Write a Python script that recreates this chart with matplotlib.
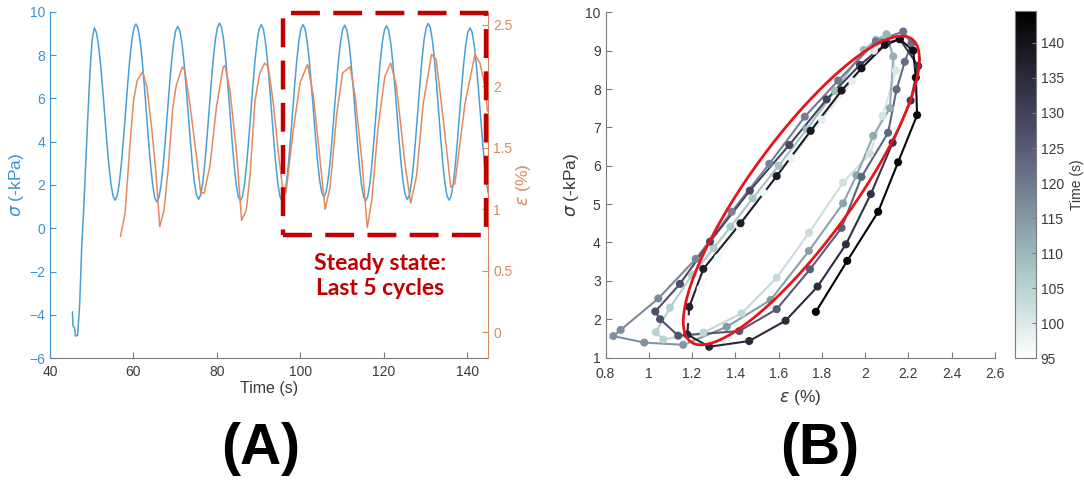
import numpy as np
import matplotlib.pyplot as plt
from matplotlib.collections import LineCollection
from matplotlib.patches import Rectangle
from matplotlib.ticker import FuncFormatter

plt.rcParams['font.family'] = ['Liberation Sans', 'DejaVu Sans']
plt.rcParams['mathtext.fontset'] = 'dejavusans'

# ---- Panel A: stress (left axis) ----
t_sigma_start = [45.4, 45.5, 45.9, 46.1]
sigma_start = [-3.86, -4.5, -4.6, -4.97]
# sampled every 0.5 s from t = 46.6 s
sigma_main = [
    -4.95, -3.6, -0.9, 1.0, 3.15, 5.3, 7.3, 8.7, 9.25,
    9.06, 8.49, 7.61, 6.50, 5.28, 4.05, 2.94, 2.06, 1.50, 1.30,
    1.50, 2.08, 2.98, 4.11, 5.37, 6.62, 7.76, 8.65, 9.23, 9.43,
    9.23, 8.65, 7.74, 6.59, 5.33, 4.06, 2.91, 2.00, 1.42, 1.22,
    1.42, 1.99, 2.89, 4.02, 5.27, 6.52, 7.65, 8.55, 9.12, 9.32,
    9.12, 8.56, 7.68, 6.56, 5.33, 4.10, 2.98, 2.10, 1.54, 1.34,
    1.54, 2.12, 3.02, 4.15, 5.41, 6.66, 7.80, 8.69, 9.27, 9.47,
    9.27, 8.69, 7.78, 6.63, 5.37, 4.10, 2.95, 2.04, 1.46, 1.26,
    1.46, 2.04, 2.94, 4.07, 5.33, 6.59, 7.72, 8.62, 9.20, 9.40,
    9.20, 8.62, 7.72, 6.59, 5.33, 4.07, 2.94, 2.04, 1.46, 1.26,
    1.46, 2.04, 2.94, 4.07, 5.33, 6.59, 7.72, 8.62, 9.20, 9.40,
    9.21, 8.64, 7.76, 6.65, 5.43, 4.20, 3.09, 2.21, 1.65, 1.45,
    1.64, 2.21, 3.08, 4.19, 5.41, 6.63, 7.74, 8.61, 9.18, 9.37,
    9.17, 8.60, 7.70, 6.57, 5.32, 4.06, 2.93, 2.04, 1.46, 1.26,
    1.46, 2.03, 2.93, 4.06, 5.31, 6.56, 7.68, 8.58, 9.15, 9.35,
    9.15, 8.59, 7.70, 6.58, 5.35, 4.11, 2.99, 2.11, 1.54, 1.34,
    1.54, 2.12, 3.01, 4.15, 5.40, 6.66, 7.79, 8.69, 9.26, 9.46,
    9.26, 8.68, 7.78, 6.64, 5.38, 4.12, 2.98, 2.08, 1.50, 1.30,
    1.50, 2.06, 2.94, 4.05, 5.28, 6.50, 7.61, 8.49, 9.06, 9.25,
    9.06, 8.49, 7.61, 6.50, 5.28, 4.05, 2.94, 2.06, 1.50,
]

# ---- Panel A: strain (right axis) ----
t_eps = [56.9, 58.0, 59.0, 60.0, 60.9, 62.2, 63.2, 64.4, 65.4, 66.3,
         67.3, 68.3, 69.4, 70.2, 71.7, 72.3, 73.5, 75.1, 76.1, 76.9,
         78.3, 79.9, 81.5, 81.9, 83.1, 84.7, 85.9, 87.0, 87.9, 89.1,
         90.2, 91.4, 92.3, 93.5, 94.7, 95.7, 96.5, 98.3, 99.9, 101.7,
         103.1, 104.7, 105.9, 107.1, 108.7, 110.1, 111.9, 113.1, 114.7, 116.0,
         117.1, 118.6, 120.2, 121.6, 123.0, 125.0, 126.4, 127.8, 129.4, 131.4,
         132.5, 134.2, 136.0, 137.0, 139.4, 141.8, 143.0, 144.2, 144.8]
eps = [0.78, 0.97, 1.45, 1.88, 2.05, 2.12, 2.00, 1.65, 1.29, 0.86,
       0.99, 1.32, 1.82, 2.00, 2.16, 2.13, 1.86, 1.43, 1.14, 1.13,
       1.35, 1.84, 2.16, 2.17, 1.97, 1.46, 0.91, 0.99, 1.27, 1.88,
       2.10, 2.19, 2.16, 1.86, 1.46, 1.18, 1.13, 1.65, 2.03, 2.18,
       1.92, 1.40, 1.00, 1.18, 1.78, 2.11, 2.16, 1.92, 1.40, 0.85,
       1.08, 1.67, 2.08, 2.19, 2.00, 1.38, 1.05, 1.27, 1.86, 2.26,
       2.22, 1.73, 1.18, 1.21, 1.86, 2.26, 2.19, 2.00, 1.80]

# steady state window
box_t = (95.7, 144.4)
box_sigma = (-0.3, 9.95)

# ---- Panel B: last 5 cycles, strain vs stress ----
eps_c1 = [1.16, 1.18, 1.24, 1.32, 1.42, 1.53, 1.66, 1.80, 1.94, 2.04,
          2.10, 2.142, 2.08, 2.022, 1.898, 1.74, 1.591, 1.429, 1.252, 1.067]
sig_c1 = [1.40, 2.00, 2.80, 3.60, 4.40, 5.30, 6.20, 7.20, 8.20, 9.00,
          9.40, 8.48, 7.30, 6.31, 5.56, 4.25, 3.08, 2.15, 1.65, 1.47]
eps_c2 = [1.033, 1.098, 1.20, 1.30, 1.378, 1.48, 1.60, 1.73, 1.86, 1.994,
          2.05, 2.099, 2.13, 2.114, 2.037, 1.96, 1.898, 1.74, 1.563, 1.36, 1.159]
sig_c2 = [1.66, 2.30, 3.15, 3.85, 4.41, 5.15, 6.00, 6.95, 7.95, 9.02,
          9.28, 9.43, 8.85, 7.50, 6.78, 5.75, 5.02, 3.78, 2.50, 1.80, 1.33]
eps_c3 = [0.979, 0.836, 0.870, 1.044, 1.217, 1.383, 1.557, 1.721, 1.875, 2.05,
          2.176, 2.214, 2.183, 2.145, 2.106, 1.983, 1.891, 1.745, 1.591, 1.418, 1.136]
sig_c3 = [1.39, 1.56, 1.72, 2.54, 3.57, 4.80, 6.05, 7.28, 8.22, 9.24,
          9.50, 9.19, 8.71, 7.99, 6.86, 5.71, 4.38, 3.30, 2.26, 1.69, 1.57]
eps_c4 = [1.052, 1.03, 1.144, 1.283, 1.467, 1.649, 1.822, 1.976, 2.10, 2.16,
          2.245, 2.21, 2.127, 2.026, 1.911, 1.78, 1.632, 1.464, 1.279]
sig_c4 = [2.00, 2.20, 2.92, 4.02, 5.35, 6.54, 7.73, 8.63, 9.20, 9.30,
          8.60, 7.70, 6.60, 5.26, 3.95, 2.85, 1.96, 1.43, 1.28]
eps_c5 = [1.178, 1.187, 1.252, 1.424, 1.591, 1.748, 1.891, 1.983, 2.091, 2.16,
          2.222, 2.234, 2.24, 2.152, 2.06, 1.917, 1.772]
sig_c5 = [1.60, 2.32, 3.31, 4.50, 5.73, 6.91, 7.96, 8.54, 9.15, 9.30,
          9.00, 8.30, 7.32, 6.09, 4.80, 3.52, 2.19]
time_range = (95, 144.6)

# fitted ellipse (center, semi-ranges, phase)
ell_center = (1.705, 5.355)
ell_range = (0.5455, 4.025)
ell_cos_phase = 0.85

blue = '#4a9fd5'
blue_ax = '#3a93cf'
orange = '#e4895f'
orange_ax = '#d98a62'
dark_red = '#c00000'
txt = '#3a3a3a'
spine = '#7a7a7a'

fig = plt.figure(figsize=(10.84, 4.83), dpi=100)

# ===== Panel A =====
ax = fig.add_axes([0.0461, 0.2582, 0.4044, 0.7176])
t_sigma = np.concatenate([t_sigma_start, 46.6 + 0.5 * np.arange(len(sigma_main))])
sigma = np.concatenate([sigma_start, sigma_main])
ax.plot(t_sigma, sigma, color=blue, lw=1.1)
ax.set_xlim(40, 145)
ax.set_ylim(-6, 10)
ax.set_xticks(range(40, 141, 20))
ax.set_yticks(range(-6, 11, 2))
ax.tick_params(direction='in', length=4, labelsize=10)
ax.tick_params(axis='x', colors=spine, labelcolor=txt, pad=5)
ax.tick_params(axis='y', colors=blue_ax, labelcolor=blue_ax)
ax.spines['top'].set_visible(False)
ax.spines['right'].set_visible(False)
ax.spines['left'].set_color(blue_ax)
ax.spines['bottom'].set_color(spine)
ax.set_xlabel('Time (s)', fontsize=11.5, color=txt)
ax.xaxis.set_label_coords(0.5, -0.065)
ax.set_ylabel(r'$\sigma$ (-kPa)', fontsize=12.5, color=blue_ax)
ax.yaxis.set_label_coords(-0.055, 0.5)

ax2 = ax.twinx()
ax2.plot(t_eps, eps, color=orange, lw=1.1)
ax2.set_ylim(-0.212, 2.608)
ax2.set_yticks([0, 0.5, 1, 1.5, 2, 2.5])
ax2.yaxis.set_major_formatter(FuncFormatter(lambda v, p: f'{v:g}'))
ax2.tick_params(direction='in', length=4, labelsize=10, colors=orange_ax,
                labelcolor=orange_ax)
for s in ['top', 'left', 'bottom']:
    ax2.spines[s].set_visible(False)
ax2.spines['right'].set_color(orange_ax)
ax2.set_ylabel(r'$\epsilon$ (%)', fontsize=12.5, color=orange_ax)
ax2.yaxis.set_label_coords(1.058, 0.5)

ax2.add_patch(Rectangle((box_t[0], box_sigma[0]), box_t[1] - box_t[0],
                        box_sigma[1] - box_sigma[0], transform=ax.transData,
                        fill=False, edgecolor=dark_red, lw=3.2,
                        linestyle=(0, (6.5, 3.0)), clip_on=False, zorder=5))
ax2.text(119.0, -2.2, 'Steady state:\nLast 5 cycles', transform=ax.transData,
         ha='center', va='center', fontsize=16.5, fontweight='bold',
         color=dark_red, family=['Lato', 'DejaVu Sans'], linespacing=1.2)

# ===== Panel B =====
bx = fig.add_axes([0.5586, 0.2598, 0.3593, 0.7147])
cycles = [(eps_c1, sig_c1), (eps_c2, sig_c2), (eps_c3, sig_c3),
          (eps_c4, sig_c4), (eps_c5, sig_c5)]
e_all = np.concatenate([c[0] for c in cycles])
s_all = np.concatenate([c[1] for c in cycles])
t_all = np.linspace(time_range[0], time_range[1], len(e_all))
cmap = plt.get_cmap('bone_r')
norm = plt.Normalize(*time_range)
pts = np.column_stack([e_all, s_all])
segs = np.stack([pts[:-1], pts[1:]], axis=1)
lc = LineCollection(segs, colors=cmap(norm(0.5 * (t_all[:-1] + t_all[1:]))),
                    linewidths=1.5, zorder=2)
bx.add_collection(lc)
sc = bx.scatter(e_all, s_all, c=t_all, cmap=cmap, norm=norm, s=34,
                edgecolors='none', zorder=3)

th = np.linspace(0, 2 * np.pi, 400)
ph = np.arccos(ell_cos_phase)
bx.plot(ell_center[0] + ell_range[0] * np.cos(th),
        ell_center[1] + ell_range[1] * np.cos(th - ph),
        color='#e8141b', lw=2.0, zorder=4)

bx.set_xlim(0.8, 2.6)
bx.set_ylim(1, 10)
bx.set_xticks(np.arange(0.8, 2.61, 0.2))
bx.set_yticks(range(1, 11))
bx.xaxis.set_major_formatter(FuncFormatter(lambda v, p: f'{v:g}'))
bx.tick_params(direction='in', length=4, labelsize=10, colors=spine,
               labelcolor=txt)
bx.tick_params(axis='x', pad=7)
bx.spines['top'].set_visible(False)
bx.spines['right'].set_visible(False)
bx.spines['left'].set_color(spine)
bx.spines['bottom'].set_color(spine)
bx.set_xlabel(r'$\epsilon$ (%)', fontsize=12.5, color=txt)
bx.xaxis.set_label_coords(0.5, -0.088)
bx.set_ylabel(r'$\sigma$ (-kPa)', fontsize=12.5, color=txt)
bx.yaxis.set_label_coords(-0.063, 0.5)

cax = fig.add_axes([0.9363, 0.2582, 0.0194, 0.7197])
cb = fig.colorbar(sc, cax=cax)
cb.set_ticks(range(95, 141, 5))
cb.outline.set_edgecolor(spine)
cax.tick_params(direction='in', length=3, labelsize=10, colors=spine,
                labelcolor=txt)
cb.set_label('Time (s)', fontsize=10, color=txt)
cax.yaxis.set_label_coords(2.6, 0.5)

fig.text(0.2408, 0.07, '(A)', ha='center', va='center', fontsize=41,
         fontweight='bold')
fig.text(0.7565, 0.07, '(B)', ha='center', va='center', fontsize=41,
         fontweight='bold')

fig.savefig('out.png', dpi=100)
